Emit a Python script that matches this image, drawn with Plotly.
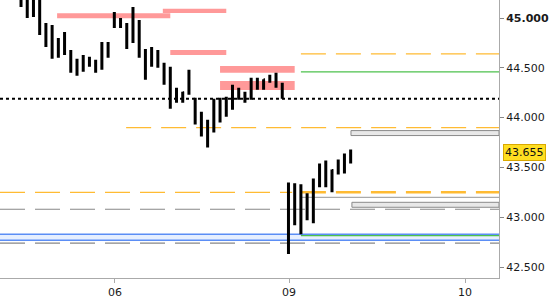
import plotly.graph_objects as go

# ---- data ----
bar_index = list(range(54))
highs = [45.25, 45.22, 45.22, 45.20, 44.95, 44.93, 44.80, 44.86, 44.68, 44.59,
         44.63, 44.61, 44.58, 44.76, 44.76, 45.06, 45.00, 44.95, 45.11, 44.98,
         44.69, 44.71, 44.68, 44.55, 44.51, 44.30, 44.26, 44.48, 44.20, 44.06,
         43.98, 44.19, 44.20, 44.21, 44.33, 44.30, 44.26, 44.40, 44.40, 44.38,
         44.43, 44.45, 44.35, 43.35, 43.34, 43.33, 43.24, 43.39, 43.54, 43.57,
         43.48, 43.58, 43.64, 43.68]
lows = [45.11, 45.00, 45.01, 44.83, 44.71, 44.59, 44.60, 44.63, 44.45, 44.42,
        44.46, 44.51, 44.45, 44.48, 44.60, 44.90, 44.90, 44.69, 44.75, 44.60,
        44.38, 44.51, 44.50, 44.33, 44.09, 44.15, 44.15, 44.23, 43.93, 43.81,
        43.70, 43.85, 43.95, 44.01, 44.08, 44.18, 44.15, 44.18, 44.28, 44.28,
        44.35, 44.30, 44.19, 42.63, 42.92, 42.83, 42.97, 42.94, 43.30, 43.30,
        43.25, 43.43, 43.44, 43.54]
opens = [45.20, 45.14, 45.05, 45.15, 44.85, 44.90, 44.78, 44.66, 44.66, 44.47,
         44.50, 44.58, 44.55, 44.50, 44.70, 44.95, 44.97, 44.92, 44.80, 44.95,
         44.62, 44.55, 44.66, 44.52, 44.38, 44.20, 44.18, 44.25, 44.18, 43.98,
         43.95, 43.88, 44.10, 44.05, 44.12, 44.25, 44.20, 44.20, 44.32, 44.37,
         44.38, 44.40, 44.32, 43.32, 42.95, 43.30, 43.00, 43.05, 43.35, 43.35,
         43.45, 43.47, 43.50, 43.58]
closes = [45.13, 45.03, 45.15, 44.88, 44.88, 44.62, 44.68, 44.66, 44.48, 44.50,
          44.57, 44.56, 44.50, 44.70, 44.62, 44.98, 44.92, 44.78, 44.95, 44.62,
          44.42, 44.66, 44.52, 44.36, 44.22, 44.18, 44.25, 44.40, 43.98, 43.95,
          43.88, 44.10, 44.05, 44.12, 44.25, 44.20, 44.20, 44.33, 44.37, 44.38,
          44.40, 44.33, 44.20, 42.95, 43.30, 43.00, 43.05, 43.35, 43.35, 43.45,
          43.47, 43.50, 43.58, 43.655]

day_ticks = [15.1, 43.1, 71.4]
day_labels = ["06", "09", "10"]

price_ticks = [42.5, 43.0, 43.5, 44.0, 44.5, 45.0]
price_labels = ["42.500", "43.000", "43.500", "44.000", "44.500", "<b>45.000</b>"]
last_price = 43.655

# supply zones (x0, x1, y0, y1)
salmon_zones = [(5.8, 24.0, 44.997, 45.047), (22.8, 33.0, 45.050, 45.093),
                (24.0, 33.0, 44.628, 44.679), (32.0, 44.0, 44.451, 44.518),
                (32.0, 44.0, 44.277, 44.367)]
grey_boxes = [(53.05, 43.820, 43.870), (53.2, 43.100, 43.150)]
blue_band = (42.770, 42.830)
dotted_level = 44.19
orange_thin = [(16.9, None, 43.90), (None, 43.6, 43.25)]
orange_thick = [(45.0, 43.25)]
orange_upper = [(45.0, 44.64)]
green_levels = [(45.0, 44.46), (45.0, 42.815)]
grey_solid = [(45.0, 43.20)]
grey_dashed = [43.08, 42.74]

X_MIN, X_MAX = -3.38, 76.85
Y_MIN, Y_MAX = 42.39, 45.181

fig = go.Figure()
fig.add_trace(go.Ohlc(
    x=bar_index, open=opens, high=highs, low=lows, close=closes,
    increasing=dict(line=dict(color="black", width=3)),
    decreasing=dict(line=dict(color="black", width=3)),
    tickwidth=0.22, showlegend=False, hoverinfo="skip"))

shapes = []
for x0, x1, y0, y1 in salmon_zones:
    shapes.append(dict(type="rect", xref="x", yref="y", x0=x0, x1=x1, y0=y0, y1=y1,
                       fillcolor="#ff9999", line=dict(width=0), layer="below"))
# blue band
shapes.append(dict(type="rect", xref="paper", yref="y", x0=0, x1=1,
                   y0=blue_band[0], y1=blue_band[1], fillcolor="#e6efff",
                   line=dict(width=0), layer="below"))
for yv in blue_band:
    shapes.append(dict(type="line", xref="paper", yref="y", x0=0, x1=1, y0=yv, y1=yv,
                       line=dict(color="#5b8ef5", width=1.5), layer="below"))
for x0, y0, y1 in grey_boxes:
    shapes.append(dict(type="rect", xref="x", yref="y", x0=x0, x1=X_MAX, y0=y0, y1=y1,
                       fillcolor="#e8e8e8", line=dict(color="#8a8a8a", width=1), layer="below"))
shapes.append(dict(type="line", xref="paper", yref="y", x0=0, x1=1, y0=dotted_level,
                   y1=dotted_level, line=dict(color="black", width=2, dash="3px,3px"),
                   layer="below"))
for x0, x1, yv in orange_thin:
    shapes.append(dict(type="line", xref="x", yref="y",
                       x0=X_MIN if x0 is None else x0, x1=X_MAX if x1 is None else x1,
                       y0=yv, y1=yv, line=dict(color="#ffbb33", width=1.2, dash="25px,10px"),
                       layer="below"))
for x0, yv in orange_thick:
    shapes.append(dict(type="line", xref="x", yref="y", x0=x0, x1=X_MAX, y0=yv, y1=yv,
                       line=dict(color="#ffbb33", width=2.5, dash="25px,10px"), layer="below"))
for x0, yv in orange_upper:
    shapes.append(dict(type="line", xref="x", yref="y", x0=x0, x1=X_MAX, y0=yv, y1=yv,
                       line=dict(color="#ffbb33", width=1.2, dash="25px,10px"), layer="below"))
for x0, yv in green_levels:
    shapes.append(dict(type="line", xref="x", yref="y", x0=x0, x1=X_MAX, y0=yv, y1=yv,
                       line=dict(color="#4cc14c", width=1.2), layer="below"))
for x0, yv in grey_solid:
    shapes.append(dict(type="line", xref="x", yref="y", x0=x0, x1=X_MAX, y0=yv, y1=yv,
                       line=dict(color="#aaaaaa", width=1.2), layer="below"))
for yv in grey_dashed:
    shapes.append(dict(type="line", xref="paper", yref="y", x0=0, x1=1, y0=yv, y1=yv,
                       line=dict(color="#888888", width=1.2, dash="25px,10px"), layer="below"))

fig.update_layout(
    width=550, height=300,
    margin=dict(l=0, r=51, t=0, b=22, pad=0),
    paper_bgcolor="white", plot_bgcolor="white",
    font=dict(family="DejaVu Sans", size=11, color="#1a1a1a"),
    shapes=shapes,
    showlegend=False,
    xaxis=dict(range=[X_MIN, X_MAX], rangeslider=dict(visible=False),
               tickvals=day_ticks, ticktext=day_labels, ticks="outside", ticklen=4,
               tickcolor="#aaaaaa", showline=True, linecolor="#aaaaaa", linewidth=1,
               showgrid=False, zeroline=False, fixedrange=True),
    yaxis=dict(range=[Y_MIN, Y_MAX], side="right", tickvals=price_ticks,
               ticktext=price_labels, ticks="outside", ticklen=4, tickcolor="#888888",
               showline=True, linecolor="#aaaaaa", linewidth=1, showgrid=False,
               zeroline=False, fixedrange=True),
    annotations=[dict(x=1, xref="paper", y=last_price, yref="y", xanchor="left",
                      xshift=4, text=str(last_price), showarrow=False,
                      bgcolor="#ffde21", bordercolor="#d9a800", borderwidth=1,
                      borderpad=1, font=dict(size=11, color="#111111"))],
)
fig.write_html("out.html")
